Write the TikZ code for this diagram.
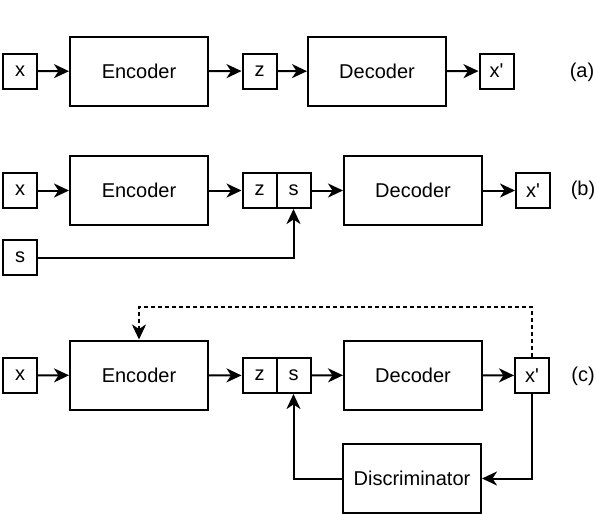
\documentclass[tikz,border=0pt]{standalone}
\usepackage{fontspec}
\setmainfont{Liberation Sans}
\usetikzlibrary{arrows.meta}
\begin{document}
\begin{tikzpicture}[x=1pt,y=-1pt,
  every node/.style={font=\fontsize{20}{24}\selectfont},
  sm/.style={draw,line width=2pt,inner sep=0pt,minimum width=34pt,minimum height=35pt},
  big/.style={draw,line width=2pt,inner sep=0pt,minimum width=138pt,minimum height=69pt},
  lab/.style={inner sep=0pt},
  arr/.style={line width=2pt,-{Stealth[length=15pt,width=14pt,inset=4.5pt]}},
  dsh/.style={arr,dash pattern=on 4pt off 3pt}]
\useasboundingbox (0,0) rectangle (596,514);
% row (a)
\node[sm] (xa) at (20,71) {x};
\node[big] (enca) at (139,71.5) {Encoder};
\node[sm] (za) at (259.5,71) {z};
\node[big] (deca) at (377,71.5) {Decoder};
\node[sm] (xpa) at (496.5,71) {x\textquotesingle};
\node[lab] (la) at (582,72) {(a)};
\draw[arr] (xa) -- (enca);
\draw[arr] (enca) -- (za);
\draw[arr] (za) -- (deca);
\draw[arr] (deca) -- (xpa);
% row (b)
\node[sm] (xb) at (20,190.5) {x};
\node[big] (encb) at (139,190.5) {Encoder};
\node[sm] (zb) at (259.5,190.5) {z};
\node[sm] (sb) at (293.5,190.5) {s};
\node[big] (decb) at (413,190.5) {Decoder};
\node[sm] (xpb) at (533,190.5) {x\textquotesingle};
\node[lab] (lb) at (583,190) {(b)};
\node[sm] (sin) at (20,257.5) {s};
\draw[arr] (xb) -- (encb);
\draw[arr] (encb) -- (zb);
\draw[arr] (sb) -- (decb);
\draw[arr] (decb) -- (xpb);
\draw[arr] (sin.east) -| (sb.south);
% row (c)
\node[sm] (xc) at (20,375.5) {x};
\node[big] (encc) at (139,375) {Encoder};
\node[sm] (zc) at (259.5,375.5) {z};
\node[sm] (sc) at (293.5,375.5) {s};
\node[big] (decc) at (413,375) {Decoder};
\node[sm] (xpc) at (532,375.5) {x\textquotesingle};
\node[lab] (lc) at (583,376) {(c)};
\node[big] (disc) at (412,478.5) {Discriminator};
\coordinate (top) at (0,307);
\draw[arr] (xc) -- (encc);
\draw[arr] (encc) -- (zc);
\draw[arr] (sc) -- (decc);
\draw[arr] (decc) -- (xpc);
\draw[dsh] (xpc.north) -- (xpc.north |- top) -| (encc.north);
\draw[arr] (xpc.south) |- (disc.east);
\draw[arr] (disc.west) -| (sc.south);
\end{tikzpicture}
\end{document}
